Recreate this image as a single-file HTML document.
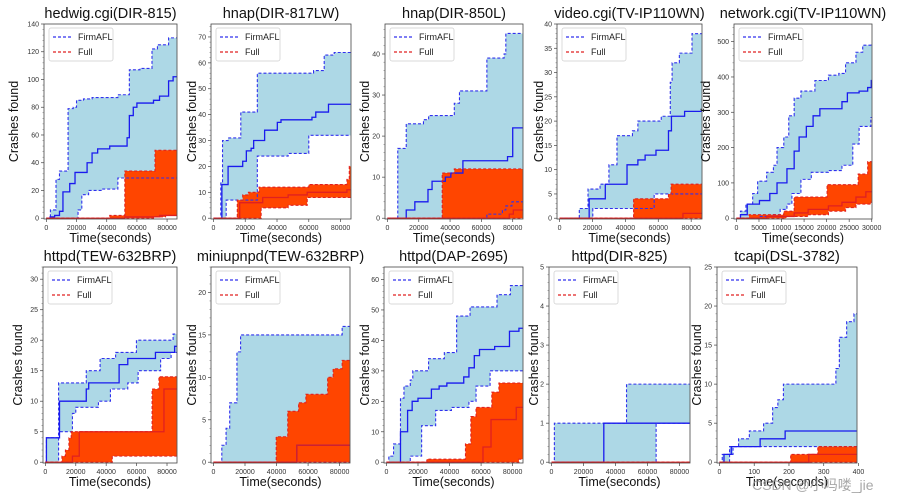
<!DOCTYPE html>
<html><head><meta charset="utf-8">
<style>
body{margin:0;background:#fff;width:902px;height:499px;overflow:hidden}
svg{display:block}
text{font-family:"Liberation Sans","DejaVu Sans",sans-serif}
</style></head>
<body>
<svg id="fig" width="902" height="499" viewBox="0 0 902 499" xmlns="http://www.w3.org/2000/svg"></svg>
<script>
// ---- Data (time in seconds, crashes found) ----
const titles = ["hedwig.cgi(DIR-815)","hnap(DIR-817LW)","hnap(DIR-850L)","video.cgi(TV-IP110WN)","network.cgi(TV-IP110WN)","httpd(TEW-632BRP)","miniupnpd(TEW-632BRP)","httpd(DAP-2695)","httpd(DIR-825)","tcapi(DSL-3782)"];
const xEnds = [86400,86400,86400,86400,30000,86400,86400,86400,86400,395];
const yMaxes = [140,75,47.3,40,550,32,23,64.1,5,25];
const yTickStep = [20,10,10,5,100,5,5,10,1,5];
const xTickSets = [[0,20000,40000,60000,80000],[0,20000,40000,60000,80000],[0,20000,40000,60000,80000],[0,20000,40000,60000,80000],[0,5000,10000,15000,20000,25000,30000],[0,20000,40000,60000,80000],[0,20000,40000,60000,80000],[0,20000,40000,60000,80000],[0,20000,40000,60000,80000],[0,100,200,300,400]];

const firmHi = [
 [[0,0],[2700,6],[6400,28],[8700,34],[14400,79],[17800,80],[20000,85],[24600,86],[30300,87],[47400,89],[55000,107],[62000,108],[70000,122],[73600,125],[81000,130]],
 [[0,0],[4600,14],[5700,30],[9200,31],[17200,41],[27600,56],[63000,57],[69700,63],[76000,64]],
 [[0,0],[6600,17],[12000,23],[23000,24],[26300,25],[42700,28],[46000,31],[63500,39],[74500,40],[75600,45]],
 [[0,0],[12000,2],[17300,6],[24600,7],[30000,11],[34900,17],[44300,18],[47600,20],[61800,21],[67300,28],[68400,32],[72800,34],[80500,38]],
 [[0,0],[900,20],[2100,40],[3600,70],[4700,105],[6700,130],[8200,150],[9000,200],[10500,230],[11600,290],[12800,340],[14300,360],[17400,390],[20400,405],[22700,410],[24200,440],[26500,470],[28000,490],[29800,493]],
 [[0,0],[700,4],[8700,13],[26900,15],[36000,17],[46200,18],[59900,20],[84000,21]],
 [[0,0],[5300,2],[8000,4],[10300,7],[14900,13],[17200,15],[81600,16]],
 [[0,0],[1500,2],[4500,6],[8900,21],[11100,25],[15100,27],[16700,30],[26700,34],[36700,36],[44500,48],[53000,51],[70100,55],[78600,58]],
 [[0,0],[1800,1],[46900,2]],
 [[0,0],[8,1],[29,2],[55,3],[86,4],[127,5],[153,7],[168,8],[184,10],[335,12],[345,16],[366,18],[387,19]]
];
const firmMed = [
 [[0,0],[2500,1],[5500,2],[8700,5],[11000,19],[15500,25],[19000,33],[27000,40],[30300,47],[34000,50],[42000,52],[53500,58],[55000,74],[57600,80],[60000,83],[71000,85],[75000,88],[81000,99],[84000,102]],
 [[0,0],[5300,13],[9200,20],[18400,22],[20700,26],[23700,27],[25300,30],[32200,34],[40200,37],[42500,38],[62000,39],[64400,41],[72400,44]],
 [[0,0],[12000,2],[17500,4],[25900,7],[28500,9],[37000,10],[40500,11],[48200,14],[76700,15],[80000,22]],
 [[0,0],[18000,4],[27800,7],[41000,11],[47600,12],[52000,13],[58600,14],[66200,18],[68000,21],[76000,22]],
 [[0,0],[900,10],[2400,40],[5100,50],[7400,70],[9000,100],[11200,140],[12800,190],[13900,230],[15500,260],[17000,290],[18500,310],[23400,330],[24600,355],[27200,360],[29100,370],[29900,390]],
 [[0,0],[700,4],[9300,10],[26900,12],[28500,13],[48500,16],[54200,17],[72400,18],[85000,19]],
 [[0,0],[52900,2]],
 [[0,0],[8900,10],[13400,17],[16300,20],[20000,21],[28500,24],[33400,25],[38300,26],[49000,28],[52300,31],[55700,35],[59000,37],[68600,38],[78000,43],[84000,44]],
 [[0,0],[32700,1]],
 [[0,0],[13,1],[34,2],[117,3],[189,4]]
];
const firmLo = [
 [[0,0],[21000,6],[23500,17],[28000,20],[37000,21],[47400,29]],
 [[0,0],[8000,7],[27600,24],[47000,25],[60000,32]],
 [[0,0],[63500,1],[73400,2],[75600,3],[79500,4]],
 [[0,0],[20200,2],[57500,5]],
 [[0,0],[5100,5],[8200,10],[9700,25],[11200,40],[12300,70],[14300,110],[16600,130],[20400,135],[23400,150],[25800,210],[27200,260],[29800,285]],
 [[0,0],[8700,5],[17800,8],[20000,9],[34900,10],[42800,12],[54200,13],[61000,15],[75800,17],[82700,18]],
 [[0,0]],
 [[0,0],[15100,2],[22300,12],[31200,17],[41200,18],[52300,20],[56800,25],[65700,30]],
 [[0,0],[65400,1]],
 [[0,0],[29,1],[39,2]]
];
const fullHi = [
 [[0,0],[42000,2],[52000,34],[72000,49]],
 [[0,0],[15000,7],[18400,9],[22000,10],[28700,12],[60000,13],[84000,15],[85500,20]],
 [[0,0],[35000,11],[42700,12]],
 [[0,0],[45000,4],[66200,5],[67800,7]],
 [[0,0],[2800,10],[10500,20],[12800,60],[20100,95],[27000,125],[29100,160]],
 [[0,0],[10900,1],[13200,2],[15500,4],[17000,5],[70200,12],[74700,14]],
 [[0,0],[39800,3],[47100,6],[54000,7],[58600,8],[72400,10],[75900,11],[81600,12]],
 [[0,0],[25600,1],[50100,6],[53500,15],[56800,18],[66800,23],[71300,26]],
 [[0,0]],
 [[0,0],[205,1],[283,2]]
];
const fullMed = [
 [[0,0],[52000,1],[75000,2]],
 [[0,0],[16500,6],[31000,8],[47000,9],[59000,10],[84000,11]],
 [[0,0],[77800,1],[80400,2]],
 [[0,0],[75000,1]],
 [[0,0],[6700,5],[12800,15],[15900,25],[20400,35],[23400,45],[26500,60],[28700,75]],
 [[0,0],[17800,1],[22300,5],[75800,5],[78000,12]],
 [[0,0],[52900,2]],
 [[0,0],[61200,5],[66300,14],[82300,18]],
 [[0,0]],
 [[0,0],[257,1]]
];
const fullLo = [
 [[0,0],[71000,1],[79000,2]],
 [[0,0],[30000,4],[47000,5],[59000,8]],
 [[0,0]],
 [[0,0]],
 [[0,0],[11000,5],[15900,10],[20400,20],[24200,30],[26500,40],[29800,45]],
 [[0,0],[44000,1]],
 [[0,0]],
 [[0,0],[84000,1]],
 [[0,0]],
 [[0,0]]
];

// ---- Layout ----
const frames = [
 [44,24,177,219],[211,24,351,219],[385,24,523,219],[557,24,702,219],[734,24,872,219],
 [43,267,177,463],[211,267,350,463],[384,267,523,463],[549,267,690,463],[717,267,857,463]
];
const yLabelOffsets = [30,19,20,18,28,25,19,19,15,20];
const NS="http://www.w3.org/2000/svg";
const svg=document.getElementById('fig');
function mk(tag,attrs,parent){const e=document.createElementNS(NS,tag);for(const k in attrs)e.setAttribute(k,attrs[k]);(parent||svg).appendChild(e);return e;}

function stepPath(pts,xs,ys,xEnd){
  let d='M'+xs(pts[0][0]).toFixed(2)+','+ys(pts[0][1]).toFixed(2);
  for(let i=1;i<pts.length;i++){d+=' H'+xs(pts[i][0]).toFixed(2)+' V'+ys(pts[i][1]).toFixed(2);}
  d+=' H'+xs(xEnd).toFixed(2);return d;
}
function bandPath(hi,lo,xs,ys,xEnd){
  let pts=[];
  pts.push([hi[0][0],hi[0][1]]);
  for(let i=1;i<hi.length;i++){pts.push([hi[i][0],hi[i-1][1]]);pts.push([hi[i][0],hi[i][1]]);}
  pts.push([xEnd,hi[hi.length-1][1]]);
  let back=[[xEnd,lo[lo.length-1][1]]];
  for(let i=lo.length-1;i>=1;i--){back.push([lo[i][0],lo[i][1]]);back.push([lo[i][0],lo[i-1][1]]);}
  back.push([lo[0][0],lo[0][1]]);
  pts=pts.concat(back);
  return 'M'+pts.map(p=>xs(p[0]).toFixed(2)+','+ys(p[1]).toFixed(2)).join(' L')+' Z';
}

for(let p=0;p<10;p++){
  const [L,T,R,B]=frames[p];
  const xEnd=xEnds[p];
  const xmin=-xEnd*0.018, xmax=xEnd*1.002;
  const ymin=-yMaxes[p]*0.004, ymax=yMaxes[p];
  const xs=v=>L+(v-xmin)/(xmax-xmin)*(R-L);
  const ys=v=>B-(v-ymin)/(ymax-ymin)*(B-T);
  const g=mk('g',{});
  
  
  const clipId='clip'+p;
  const cp=mk('clipPath',{id:clipId},g);mk('rect',{x:L,y:T,width:R-L,height:B-T},cp);
  const plot=mk('g',{'clip-path':'url(#'+clipId+')'},g);

  const fb=mk('path',{d:bandPath(firmHi[p],firmLo[p],xs,ys,xEnd),fill:'#add8e6',stroke:'none'},plot);
  
  
  const rb=mk('path',{d:bandPath(fullHi[p],fullLo[p],xs,ys,xEnd),fill:'#ff4500',stroke:'none'},plot);
  
  

  const lines=[[firmHi[p],'#3030ee','3,2','firmafl-upper-line'],[firmLo[p],'#3030ee','3,2','firmafl-lower-line'],[firmMed[p],'#1a1aee','','firmafl-median-line'],
               [fullHi[p],'#e02020','3,2','full-upper-line'],[fullLo[p],'#e02020','3,2','full-lower-line'],[fullMed[p],'#e02020','','full-median-line']];
  lines.forEach(l=>{
    const e=mk('path',{d:stepPath(l[0],xs,ys,xEnd),fill:'none',stroke:l[1],'stroke-width':l[2]?1.1:1.3,'stroke-dasharray':l[2]},plot);
    
    
  });

  const fr=mk('rect',{x:L,y:T,width:R-L,height:B-T,fill:'none',stroke:'#444','stroke-width':0.8},g);
  
  

  const st=yTickStep[p];
  for(let v=0;v<=ymax+1e-9;v+=st){
    const y=ys(v);
    mk('line',{x1:L-3,x2:L,y1:y,y2:y,stroke:'#444','stroke-width':0.7},g);
    const t=mk('text',{x:L-5,y:y+2.5,'font-size':7,'text-anchor':'end',fill:'#333'},g);
    t.textContent=String(Math.round(v*10)/10);
    
    
    for(let k=1;k<5;k++){const ym=ys(v+st*k/5);if(ym>=T)mk('line',{x1:L-1.5,x2:L,y1:ym,y2:ym,stroke:'#666','stroke-width':0.5},g);}
  }
  xTickSets[p].forEach(v=>{
    const x=xs(v);
    mk('line',{x1:x,x2:x,y1:B,y2:B+3,stroke:'#444','stroke-width':0.7},g);
    const t=mk('text',{x:x,y:B+11,'font-size':7,'text-anchor':'middle',fill:'#333'},g);
    t.textContent=String(v);
    
    
  });
  const ti=mk('text',{x:(L+R)/2,y:T-6,'font-size':14.5,'text-anchor':'middle',fill:'#111'},g);
  ti.textContent=titles[p];
  
  
  const xl=mk('text',{x:(L+R)/2,y:B+23,'font-size':12.5,'text-anchor':'middle',fill:'#111'},g);
  xl.textContent='Time(seconds)';
  
  
  const yl=mk('text',{x:0,y:0,'font-size':12.5,'text-anchor':'middle',fill:'#111',transform:'translate('+(L-yLabelOffsets[p]+4)+','+((T+B)/2)+') rotate(-90)'},g);
  yl.textContent='Crashes found';
  
  

  const lg=mk('g',{},g);
  
  
  mk('rect',{x:L+5,y:T+4,width:64,height:33,fill:'#fff','fill-opacity':0.85,stroke:'#ccc','stroke-width':0.7,rx:2},lg);
  mk('line',{x1:L+9,x2:L+27,y1:T+13,y2:T+13,stroke:'#3030ee','stroke-width':1.2,'stroke-dasharray':'3,2'},lg);
  mk('line',{x1:L+9,x2:L+27,y1:T+28,y2:T+28,stroke:'#e02020','stroke-width':1.2,'stroke-dasharray':'3,2'},lg);
  const l1=mk('text',{x:L+34,y:T+16,'font-size':9,fill:'#222'},lg);l1.textContent='FirmAFL';
  
  
  const l2=mk('text',{x:L+34,y:T+31,'font-size':9,fill:'#222'},lg);l2.textContent='Full';
  
  
}
const wm=mk('text',{x:752,y:490,'font-size':14,fill:'#999','fill-opacity':0.85});
wm.setAttribute('font-family','"Liberation Sans","Noto Sans CJK SC",sans-serif');
wm.textContent='CSDN @小吗喽_jie';


</script>
</body></html>
